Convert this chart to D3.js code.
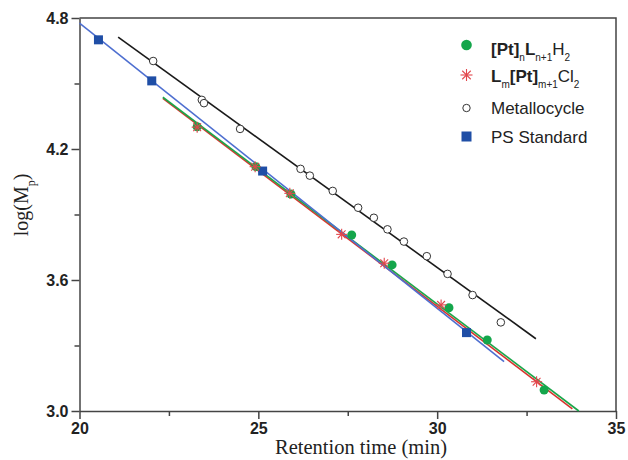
<!DOCTYPE html>
<html>
<head>
<meta charset="utf-8">
<script src="https://cdn.jsdelivr.net/npm/d3@7"></script>
<style>
  body { margin: 0; background: #fff; }
  .axis path, .axis line { stroke: #444; stroke-width: 1.5px; }
</style>
</head>
<body>
<script>
// retention time (min) and log(Mp)
var ptTime   = [23.29, 24.93, 25.91, 27.61, 28.74, 30.33, 31.40, 32.99];
var ptLog    = [4.302, 4.119, 3.994, 3.806, 3.669, 3.473, 3.325, 3.096];

var clTime   = [23.29, 24.91, 25.88, 27.33, 28.52, 30.11, 32.78];
var clLog    = [4.300, 4.119, 3.997, 3.809, 3.677, 3.486, 3.134];

var metTime  = [22.06, 23.42, 23.48, 24.49, 26.18, 26.44, 27.08, 27.79, 28.23, 28.61, 29.07, 29.71, 30.29, 30.99, 31.78];
var metLog   = [4.603, 4.425, 4.410, 4.292, 4.109, 4.078, 4.008, 3.931, 3.885, 3.832, 3.776, 3.709, 3.628, 3.531, 3.406];

var psTime   = [20.53, 22.02, 25.12, 30.82];
var psLog    = [4.700, 4.512, 4.099, 3.359];

// fitted lines: [start, end] as [time, log]
var ptFit  = [[22.33, 4.437], [33.96, 3.0]];
var clFit  = [[22.33, 4.432], [33.78, 3.01]];
var metFit = [[21.08, 4.712], [32.76, 3.331]];
var psFit  = [[20.0, 4.777], [31.87, 3.226]];

var xTicks = [20, 25, 30, 35];
var xMinor = [22.5, 27.5, 32.5];
var yTicks = [3.0, 3.6, 4.2, 4.8];
var yMinor = [3.3, 3.9, 4.5];

var w = 628, h = 460;
var plotLeft = 79.5, plotRight = 616, plotTop = 18, plotBottom = 411;

var svg = d3.select("body").append("svg")
  .attr("width", w)
  .attr("height", h);

var x = d3.scaleLinear().domain([20, 35]).range([plotLeft, plotRight]);
var y = d3.scaleLinear().domain([3.0, 4.8]).range([plotBottom, plotTop]);

// frame (top and right)
svg.append("path")
  .attr("d", "M" + plotLeft + "," + plotTop + "H" + plotRight + "V" + plotBottom)
  .attr("fill", "none")
  .attr("stroke", "#444")
  .attr("stroke-width", 1.5);

// minor ticks
svg.append("g")
  .attr("class", "axis")
  .attr("transform", "translate(0," + plotBottom + ")")
  .call(d3.axisBottom(x).tickValues(xMinor).tickSize(5).tickFormat(""))
  .call(function(g) { g.select(".domain").remove(); });

svg.append("g")
  .attr("class", "axis")
  .attr("transform", "translate(" + plotLeft + ",0)")
  .call(d3.axisLeft(y).tickValues(yMinor).tickSize(5).tickFormat(""))
  .call(function(g) { g.select(".domain").remove(); });

function styleTicks(g) {
  g.selectAll(".tick text")
    .style("font-family", "'Liberation Sans', Arial, sans-serif")
    .style("font-weight", "bold")
    .style("font-size", "16px")
    .attr("fill", "#222");
}

// major axes
svg.append("g")
  .attr("class", "axis")
  .attr("transform", "translate(0," + plotBottom + ")")
  .call(d3.axisBottom(x).tickValues(xTicks).tickSize(8).tickPadding(4).tickSizeOuter(0)
        .tickFormat(d3.format("d")))
  .call(styleTicks);

svg.append("g")
  .attr("class", "axis")
  .attr("transform", "translate(" + plotLeft + ",0)")
  .call(d3.axisLeft(y).tickValues(yTicks).tickSize(8).tickPadding(3).tickSizeOuter(0)
        .tickFormat(d3.format(".1f")))
  .call(styleTicks);

// axis titles
svg.append("text")
  .attr("x", 361)
  .attr("y", 454)
  .attr("text-anchor", "middle")
  .style("font-family", "'Liberation Serif', 'Times New Roman', serif")
  .style("font-size", "20.5px")
  .attr("fill", "#222")
  .text("Retention time (min)");

var yl = svg.append("text")
  .attr("transform", "translate(28,205) rotate(-90)")
  .attr("text-anchor", "middle")
  .style("font-family", "'Liberation Serif', 'Times New Roman', serif")
  .style("font-size", "20px")
  .attr("fill", "#222");
yl.append("tspan").text("log(M");
yl.append("tspan").attr("baseline-shift", "sub").style("font-size", "12px").text("p");
yl.append("tspan").text(")");

// fit lines
var line = d3.line()
  .x(function(d) { return x(d[0]); })
  .y(function(d) { return y(d[1]); });

var fits = [
  { data: clFit, color: "#d8352f" },
  { data: ptFit, color: "#1aa64a" },
  { data: psFit, color: "#4e6fd0" },
  { data: metFit, color: "#1a1a1a" }
];
fits.forEach(function(f) {
  svg.append("path")
    .attr("d", line(f.data))
    .attr("fill", "none")
    .attr("stroke", f.color)
    .attr("stroke-width", 1.6);
});

// asterisk marker
function drawStar(g, cx, cy, r) {
  for (var k = 0; k < 4; k++) {
    var a = k * Math.PI / 4;
    g.append("line")
      .attr("x1", cx - r * Math.cos(a)).attr("y1", cy - r * Math.sin(a))
      .attr("x2", cx + r * Math.cos(a)).attr("y2", cy + r * Math.sin(a))
      .attr("stroke", "#e2474d")
      .attr("stroke-width", 1.1);
  }
}

// Metallocycle: open circles
svg.selectAll(".met")
  .data(metTime)
  .enter()
  .append("circle")
  .attr("class", "met")
  .attr("cx", function(d) { return x(d); })
  .attr("cy", function(d, i) { return y(metLog[i]); })
  .attr("r", 3.8)
  .attr("fill", "#fff")
  .attr("stroke", "#333")
  .attr("stroke-width", 1);

// PS Standard: squares
svg.selectAll(".ps")
  .data(psTime)
  .enter()
  .append("rect")
  .attr("class", "ps")
  .attr("x", function(d) { return x(d) - 4.5; })
  .attr("y", function(d, i) { return y(psLog[i]) - 4.5; })
  .attr("width", 9)
  .attr("height", 9)
  .attr("fill", "#1f4ea6");

// [Pt]nLn+1H2: filled green circles
svg.selectAll(".pt")
  .data(ptTime)
  .enter()
  .append("circle")
  .attr("class", "pt")
  .attr("cx", function(d) { return x(d); })
  .attr("cy", function(d, i) { return y(ptLog[i]); })
  .attr("r", 4.5)
  .attr("fill", "#14a64b");

// Lm[Pt]m+1Cl2: red asterisks
var stars = svg.append("g");
clTime.forEach(function(d, i) {
  drawStar(stars, x(d), y(clLog[i]), 5.5);
});

// legend
var lg = svg.append("g")
  .style("font-family", "'Liberation Sans', Arial, sans-serif")
  .style("font-size", "17px")
  .attr("fill", "#222");
var mx = 466.5, tx = 491;

lg.append("circle").attr("cx", mx).attr("cy", 45).attr("r", 5.3).attr("fill", "#14a64b");
var t1 = lg.append("text").attr("x", tx).attr("y", 55);
t1.append("tspan").style("font-weight", "bold").text("[Pt]");
t1.append("tspan").attr("baseline-shift", "sub").style("font-size", "10px").text("n");
t1.append("tspan").style("font-weight", "bold").text("L");
t1.append("tspan").attr("baseline-shift", "sub").style("font-size", "10px").text("n+1");
t1.append("tspan").text("H");
t1.append("tspan").attr("baseline-shift", "sub").style("font-size", "10px").text("2");

drawStar(lg, mx, 75, 6);
var t2 = lg.append("text").attr("x", tx).attr("y", 82);
t2.append("tspan").style("font-weight", "bold").text("L");
t2.append("tspan").attr("baseline-shift", "sub").style("font-size", "10px").text("m");
t2.append("tspan").style("font-weight", "bold").text("[Pt]");
t2.append("tspan").attr("baseline-shift", "sub").style("font-size", "10px").text("m+1");
t2.append("tspan").text("Cl");
t2.append("tspan").attr("baseline-shift", "sub").style("font-size", "10px").text("2");

lg.append("circle").attr("cx", mx).attr("cy", 108).attr("r", 3.7)
  .attr("fill", "#fff").attr("stroke", "#333").attr("stroke-width", 1);
lg.append("text").attr("x", tx).attr("y", 114).text("Metallocycle");

lg.append("rect").attr("x", mx - 5).attr("y", 131.5).attr("width", 10).attr("height", 10)
  .attr("fill", "#1f4ea6");
lg.append("text").attr("x", tx).attr("y", 143).text("PS Standard");
</script>
</body>
</html>
